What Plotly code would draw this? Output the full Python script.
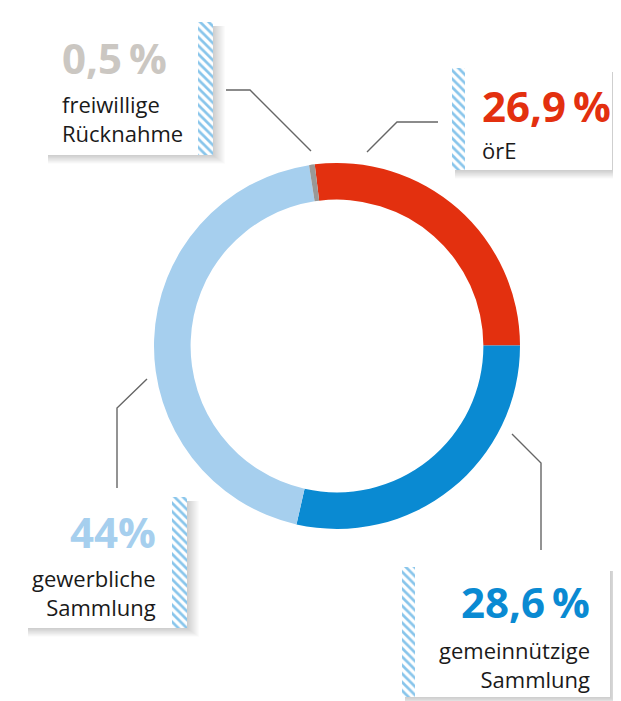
import plotly.graph_objects as go

# ── data ──
labels = ["örE", "gemeinnützige Sammlung", "gewerbliche Sammlung", "freiwillige Rücknahme"]
values = [26.9, 28.6, 44.0, 0.5]
colors = ["#e3300f", "#0a8ad2", "#a6cfee", "#9a9896"]
pct_text = ["26,9\u2009%", "28,6\u2009%", "44%", "0,5\u2009%"]
pct_colors = ["#e3300f", "#0a8ad2", "#a6cfee", "#cbc7c2"]
label_text = ["örE", "gemeinnützige<br>Sammlung", "gewerbliche<br>Sammlung", "freiwillige<br>Rücknahme"]

W, H = 621, 701
OFF = 8  # page body margin of the written html
FONT = "Open Sans"

# box layout in page pixels: box, hatch side, text x, text anchor, y of number / label block
boxes = [
    dict(box=(452, 68, 612, 170), hatch="left", tx=480, anchor="left", ys=[105, 150]),
    dict(box=(402, 567, 610, 697), hatch="left", tx=592, anchor="right", ys=[601, 664]),
    dict(box=(25, 497, 187, 628), hatch="right", tx=158, anchor="right", ys=[531, 592]),
    dict(box=(45, 22, 213, 155), hatch="right", tx=60, anchor="left", ys=[57, 118]),
]

leaders = [
    [(367, 152), (397, 122), (438, 122)],
    [(512, 434), (541, 463), (541, 550)],
    [(117, 488), (117, 408), (147, 379)],
    [(226, 90), (250, 90), (311, 151)],
]

fig = go.Figure()

# donut
cx, cy, r = 337 - OFF, 346 - OFF, 183
fig.add_trace(go.Pie(
    labels=labels, values=values, sort=False, direction="clockwise",
    rotation=-7, hole=0.8, textinfo="none", hoverinfo="label+percent",
    marker=dict(colors=colors, line=dict(width=0)),
    domain=dict(x=[(cx - r) / W, (cx + r) / W], y=[1 - (cy + r) / H, 1 - (cy - r) / H]),
    showlegend=False,
))

shapes = []
annotations = []
for i, b in enumerate(boxes):
    x0, y0, x1, y1 = b["box"]
    # soft shadow to the right and below
    for k in range(12):
        shapes.append(dict(type="rect", xref="x", yref="y", layer="below",
                           x0=x0 + 3, x1=x1 + 1 + k, y0=y0 + 4, y1=y1 + 1 + k * 0.7,
                           line=dict(width=0), fillcolor="rgba(0,0,0,0.016)"))
    shapes.append(dict(type="rect", xref="x", yref="y", layer="below",
                       x0=x0, x1=x1, y0=y0, y1=y1, line=dict(width=0), fillcolor="white"))
    # hatch strip
    if b["hatch"] == "left":
        hx0, hx1 = x0, x0 + 13
    else:
        hx0, hx1 = x1 - 15, x1
    fig.add_trace(go.Scatter(
        x=[hx0, hx1, hx1, hx0, hx0], y=[y0, y0, y1, y1, y0],
        mode="lines", line=dict(width=0), fill="toself", fillcolor="white",
        fillpattern=dict(shape="\\", fgcolor="#118cd8", bgcolor="white", size=6, solidity=0.45),
        hoverinfo="skip", showlegend=False,
    ))
    # texts
    annotations.append(dict(x=b["tx"], y=b["ys"][0], xref="x", yref="y", text="<b>" + pct_text[i] + "</b>",
                            showarrow=False, xanchor=b["anchor"], yanchor="middle",
                            font=dict(family=FONT, size=42, color=pct_colors[i])))
    annotations.append(dict(x=b["tx"], y=b["ys"][1], xref="x", yref="y", text=label_text[i],
                            showarrow=False, xanchor=b["anchor"], yanchor="middle", align=b["anchor"],
                            font=dict(family=FONT, size=22, color="#1a1a1a")))

for pts in leaders:
    path = "M " + " L ".join(f"{px},{py}" for px, py in pts)
    shapes.append(dict(type="path", xref="x", yref="y", path=path,
                       line=dict(color="#666666", width=1.4)))

fig.update_layout(
    width=W, height=H, margin=dict(l=0, r=0, t=0, b=0),
    paper_bgcolor="white", plot_bgcolor="rgba(0,0,0,0)",
    xaxis=dict(range=[OFF, W + OFF], visible=False, fixedrange=True),
    yaxis=dict(range=[H + OFF, OFF], visible=False, fixedrange=True),
    shapes=shapes, annotations=annotations,
)

fig.write_html("out.html")
